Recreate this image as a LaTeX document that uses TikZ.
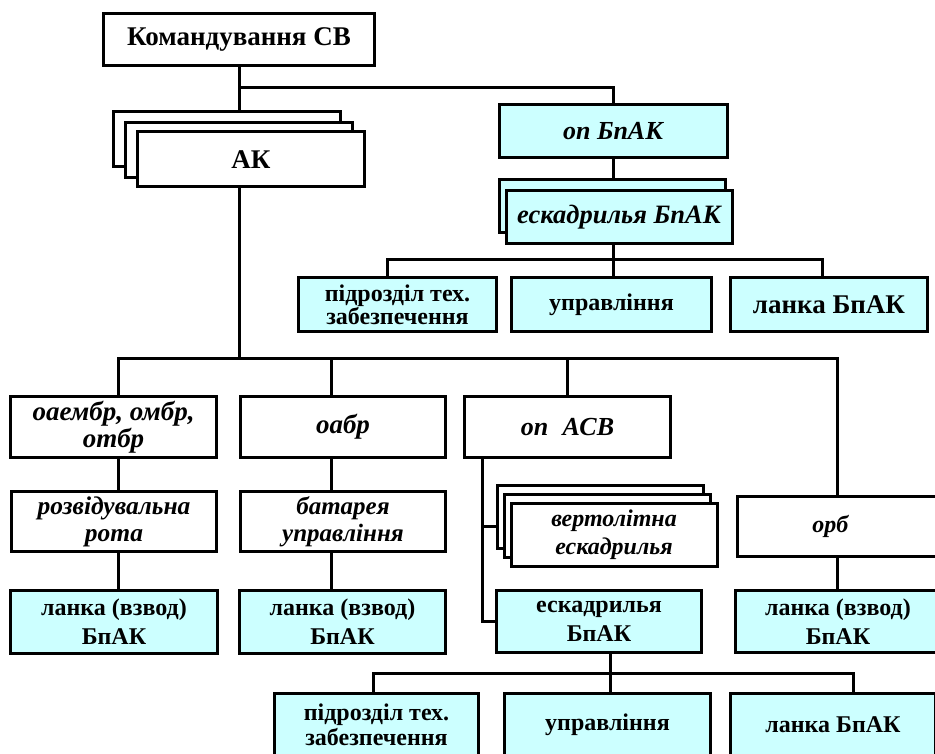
\documentclass[tikz,border=0pt]{standalone}
\usepackage{fontspec}
\setmainfont{Liberation Serif}
\definecolor{cy}{RGB}{204,255,255}
\begin{document}
\begin{tikzpicture}[x=1pt,y=-1pt,
  box/.style={draw=black, line width=3pt, fill=white, inner sep=1pt, align=center,
    font=\fontsize{24}{29}\selectfont\bfseries},
  cbox/.style={box, fill=cy},
  fb/.style 2 args={font=\fontsize{#1}{#2}\selectfont\bfseries},
  fi/.style 2 args={font=\fontsize{#1}{#2}\selectfont\bfseries\itshape},
  conn/.style={line width=3pt},
  sz/.style 2 args={minimum width=#1pt, minimum height=#2pt}
]
\useasboundingbox (0,0) rectangle (935,754);

% top
\node[box, fb={27}{32}, sz={271}{52}] (kom) at (239,39.5) {Командування СВ};
\node[box, sz={227}{55}] (akc) at (227,139) {};
\node[box, sz={227}{55}] (akb) at (239,150) {};
\node[box, fb={27}{32}, sz={227}{55}] (ak) at (251,159.5) {АК};

% upper right subtree
\node[cbox, fi={26}{31}, sz={228}{53}] (opb) at (613,131) {оп БпАК};
\node[cbox, sz={226}{53}] (esku2) at (612,206) {};
\node[cbox, fi={26.5}{31}, sz={226}{53}] (esku) at (619,217) {ескадрилья БпАК};
\node[cbox, fb={24}{23}, sz={198}{54}] (pidr1) at (397.5,304.5) {підрозділ тех.\\забезпечення};
\node[cbox, fb={24}{29}, sz={200}{54}] (upr1) at (611.5,304.5) {управління};
\node[cbox, fb={27}{32}, sz={197}{54}] (lk5) at (829,304.5) {ланка БпАК};

% second level
\node[box, fi={27}{27}, sz={206}{61}] (oaem) at (113.5,427) {оаембр, омбр,\\отбр};
\node[box, fi={27}{32}, sz={205}{61}] (oabr) at (343,427) {оабр};
\node[box, fi={26}{31}, sz={206}{61}] (opasv) at (567.5,427) {оп\hspace{0.55em}АСВ};
\node[box, fi={24}{29}, sz={205}{60}] (orb) at (840,526.5) {орб\hspace{0.8em}};

\node[box, fi={25.5}{27}, sz={205}{60}] (rozv) at (114,521.5) {розвідувальна\\рота};
\node[box, fi={25}{27}, sz={205}{60}] (bat) at (343,521.5) {батарея\\управління};

\node[cbox, fb={24}{29}, sz={207}{63}] (lk1) at (114,622) {ланка (взвод)\\БпАК};
\node[cbox, fb={24}{29}, sz={206}{63}] (lk2) at (342.5,622) {ланка (взвод)\\БпАК};
\node[cbox, fb={24}{29}, sz={205}{62}] (lk3) at (838,621.5) {ланка (взвод)\\БпАК};

% helicopter squadrons stack
\node[box, sz={206}{63}] (vert3) at (600,517) {};
\node[box, sz={206}{63}] (vert2) at (607,526) {};
\node[box, fi={24}{28}, sz={206}{63}] (vert) at (614,535) {вертолітна\\ескадрилья};
\node[cbox, fb={24}{29}, sz={205}{62}] (eskl) at (599,621.5) {ескадрилья\\БпАК};

% bottom row
\node[cbox, fb={24}{25}, sz={204}{63}] (pidr2) at (376.5,725) {підрозділ тех.\\забезпечення};
\node[cbox, fb={24}{29}, sz={206}{63}] (upr2) at (607.5,725) {управління};
\node[cbox, fb={24}{29}, sz={205}{63}] (lk4) at (833,725) {ланка БпАК};

% connectors
\coordinate (j0) at (239,88);
\coordinate (j1) at (239,358);
\coordinate (j2) at (613,260);
\coordinate (a1) at (387,260);
\coordinate (a3) at (822,260);
\coordinate (h1) at (118,358);
\coordinate (h2) at (331,358);
\coordinate (h3) at (567,358);
\coordinate (h4) at (837,358);
\coordinate (v0) at (482,526);
\coordinate (k1) at (373,673);
\coordinate (k2) at (610,673);
\coordinate (k3) at (853,673);

\draw[conn] (kom.south) -- (kom.south |- akc.north);
\draw[conn] (j0) -| (opb.north);
\draw[conn] (opb.south) -- (opb.south |- esku2.north);
\draw[conn] (j2 |- esku.south) -- (j2) -- (j2 |- upr1.north);
\draw[conn] (a1 |- pidr1.north) -- (a1) -- (a3) -- (a3 |- lk5.north);

\draw[conn] (j1 |- ak.south) -- (j1);
\draw[conn] (h1 |- oaem.north) -- (h1) -- (h4) -- (h4 |- orb.north);
\draw[conn] (h2) -- (h2 |- oabr.north);
\draw[conn] (h3) -- (h3 |- opasv.north);
\draw[conn] (h1 |- oaem.south) -- (h1 |- rozv.north);
\draw[conn] (h1 |- rozv.south) -- (h1 |- lk1.north);
\draw[conn] (h2 |- oabr.south) -- (h2 |- bat.north);
\draw[conn] (h2 |- bat.south) -- (h2 |- lk2.north);
\draw[conn] (h4 |- orb.south) -- (h4 |- lk3.north);

\draw[conn] (v0 |- opasv.south) -- (v0 |- eskl.west) -- (eskl.west);
\draw[conn] (v0) -- (v0 -| vert3.west);

\draw[conn] (k2 |- eskl.south) -- (k2) -- (k2 |- upr2.north);
\draw[conn] (k1 |- pidr2.north) -- (k1) -- (k3) -- (k3 |- lk4.north);
\end{tikzpicture}
\end{document}
